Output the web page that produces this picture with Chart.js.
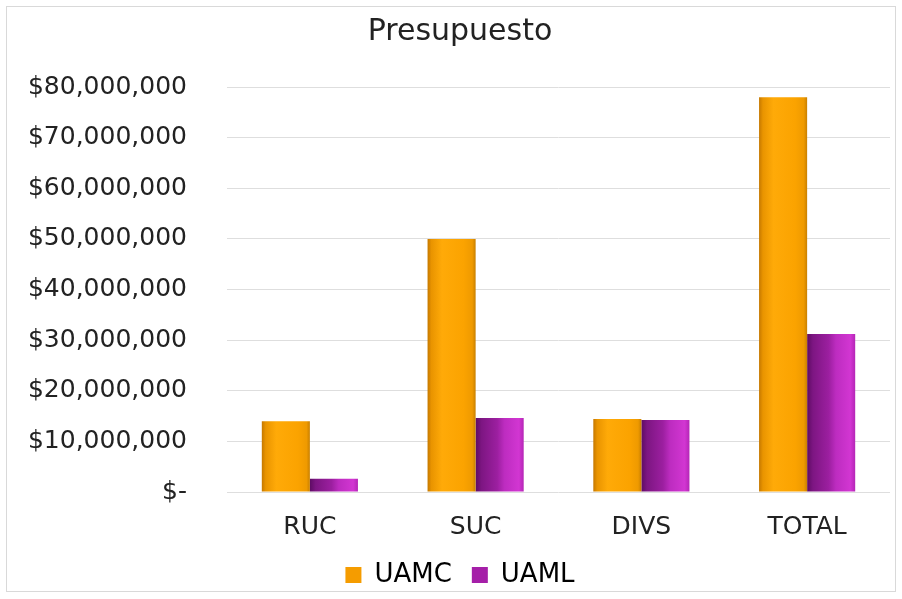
<!DOCTYPE html>
<html>
<head>
<meta charset="utf-8">
<script src="https://cdn.jsdelivr.net/npm/chart.js@4.4.1/dist/chart.umd.min.js"></script>
<style>
  html, body { margin:0; padding:0; background:#fff; }
  #wrap { position:absolute; left:6px; top:6px; width:890px; height:586px; border:1px solid #d9d9d9; box-sizing:border-box; }
  #cv { position:absolute; left:0; top:0; }
</style>
</head>
<body>
<div id="wrap"></div>
<canvas id="cv" width="902" height="599"></canvas>
<script>
const TITLE      = "Presupuesto";
const CATEGORIES = ["RUC", "SUC", "DIVS", "TOTAL"];
const UAMC       = [14000000, 50000000, 14400000, 78000000];
const UAML       = [2600000, 14600000, 14200000, 31200000];
const Y_TICKS    = [0, 10000000, 20000000, 30000000, 40000000, 50000000, 60000000, 70000000, 80000000];

const FONT = "'DejaVu Sans', sans-serif";

function money(v) {
  if (v === 0) return "$-";
  return "$" + v.toLocaleString("en-US");
}

// cylinder-ish horizontal shading per bar
const STOPS = {
  UAMC: [[0,"#c57800"],[0.08,"#e99400"],[0.3,"#ffaa08"],[0.75,"#fba300"],[0.93,"#ef9a00"],[1,"#c98000"]],
  UAML: [[0,"#5e0c64"],[0.12,"#7d1682"],[0.45,"#9c1fa0"],[0.6,"#bd2cc0"],[0.9,"#d236d2"],[1,"#b526b6"]]
};

const shade = {
  id: "shade",
  beforeDatasetsDraw(chart) {
    const ctx = chart.ctx;
    chart.data.datasets.forEach((ds, di) => {
      chart.getDatasetMeta(di).data.forEach(bar => {
        const x0 = bar.x - bar.width / 2, x1 = bar.x + bar.width / 2;
        const g = ctx.createLinearGradient(x0, 0, x1, 0);
        STOPS[ds.label].forEach(s => g.addColorStop(s[0], s[1]));
        bar.options.backgroundColor = g;
      });
    });
  }
};

new Chart(document.getElementById("cv").getContext("2d"), {
  type: "bar",
  data: {
    labels: CATEGORIES,
    datasets: [
      // scriptable colour so every bar gets its own options object
      { label:"UAMC", data:UAMC, backgroundColor: c => "#f7a000", borderWidth:0 },
      { label:"UAML", data:UAML, backgroundColor: c => "#a81fa8", borderWidth:0 }
    ]
  },
  options: {
    responsive:false, animation:false,
    layout: { padding:{ left:30, right:12, top:6, bottom:1 } },
    datasets: { bar: { categoryPercentage:0.58, barPercentage:1.0 } },
    plugins: {
      title: { display:true, text:TITLE, color:"#222", font:{ family:FONT, size:30, weight:"normal" }, padding:{ top:8, bottom:37 } },
      legend: {
        position:"bottom",
        labels: { color:"#222", font:{ family:FONT, size:26 }, boxWidth:16, boxHeight:16, padding:20,
          generateLabels: c => c.data.datasets.map((ds, i) => ({
            text: ds.label, fillStyle: ds.label === "UAMC" ? "#f59c00" : "#a51fa8",
            strokeStyle: "transparent", lineWidth: 0, datasetIndex: i
          }))
        }
      },
      tooltip: { enabled:false }
    },
    scales: {
      x: {
        grid: { display:false, drawTicks:false }, border: { display:false },
        ticks: { color:"#222", font:{ family:FONT, size:25 }, padding:20 },
        afterFit: s => { s.height = 50; }
      },
      y: {
        min:0, max:80000000,
        afterBuildTicks: ax => { ax.ticks = Y_TICKS.map(v => ({ value:v })); },
        grid: { color:"#dedede", lineWidth:1, drawTicks:false },
        border: { display:false },
        ticks: { color:"#222", font:{ family:FONT, size:25 }, padding:40, callback: v => money(v) },
        afterFit: s => { s.width = 197; }
      }
    }
  },
  plugins: [shade]
});
</script>
</body>
</html>
